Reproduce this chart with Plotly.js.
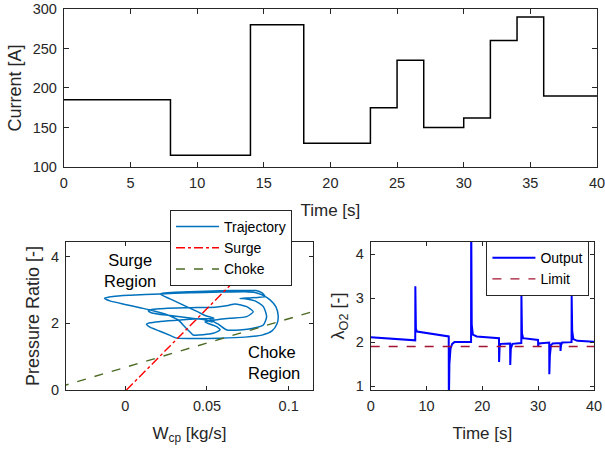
<!DOCTYPE html>
<html><head><meta charset="utf-8">
<script src="https://cdn.plot.ly/plotly-3.0.1.min.js"></script>
<style>body{margin:0;padding:0;background:#fff}#chart{width:605px;height:455px}</style>
</head><body><div id="chart"></div>
<script>
// Top: current profile (step)
const stepTime = [0, 8, 14, 18, 23, 25, 27, 30, 32, 34, 36, 40];
const stepCurrent = [185, 115, 280, 130, 175, 235, 150, 162, 260, 290, 190, 190];

// Bottom-left: compressor trajectory
const trajW = [0.0543,0.0457,0.0335,0.0212,0.0151,0.0130,0.0151,0.0212,0.0274,0.0316,
  0.0396,0.0580,0.0733,0.0837,0.0898,0.0928,0.0936,0.0922,0.0886,0.0837,0.0794,0.0733,
  0.0580,0.0396,0.0212,0.0029,-0.0075,-0.0127,-0.0094,-0.0002,0.0090,0.0163,0.0243,0.0323,0.0365,0.0396,0.0416,
  0.0539,0.0580,0.0559,0.0488,
  0.0549,0.0641,0.0743,0.0783,0.0743,0.0671,0.0629,
  0.0549,0.0396,0.0243,0.0163,0.0141,0.0163,0.0274,0.0396,0.0488,
  0.0531,0.0543,0.0518,
  0.0567,0.0621,0.0702,0.0783,0.0845,0.0865,0.0845,0.0794,0.0743,0.0702,
  0.0763,0.0812,0.0855,0.0837,0.0800,0.0733,
  0.0580,0.0396,0.0243,0.0212,0.0274,0.0365,0.0445,0.0488,0.0543];
const trajPR = [2.153,2.138,2.102,2.054,2.018,1.973,1.883,1.763,1.637,1.556,
  1.544,1.553,1.586,1.646,1.772,1.982,2.222,2.492,2.703,2.853,2.925,2.949,
  2.937,2.919,2.883,2.841,2.805,2.754,2.673,2.568,2.468,2.387,2.282,2.102,1.892,1.742,1.652,
  1.703,1.802,1.901,2.042,
  2.102,2.153,2.201,2.351,2.502,2.583,2.538,
  2.486,2.468,2.447,2.417,2.381,2.312,2.237,2.162,2.102,
  2.042,2.087,2.117,
  1.982,1.802,1.802,1.853,1.952,2.201,2.502,2.673,2.733,2.748,
  2.763,2.778,2.808,2.913,2.982,2.988,
  2.979,2.949,2.913,2.883,2.733,2.523,2.342,2.237,2.153];

const surgeW = [0.0007, 0.0916];
const surgePR = [0, 4.5];
const chokeW = [-0.04, 0.12];
const chokePR = [0.096, 2.43];

// Bottom-right: oxygen excess ratio
const lamTime = [0,7.98,8.0,8.1,8.3,13.98,14.0,14.1,14.3,14.6,15,17.98,18.0,18.1,18.3,19,22.98,23.0,23.1,23.3,24.98,25.0,25.1,25.4,26.98,27.0,27.1,27.3,29.98,30.0,30.1,31.98,32.0,32.1,32.3,32.6,33.98,34.0,34.1,34.3,35.98,36.0,36.1,36.3,37,40];
const lamValue = [2.11,2.04,3.27,2.3,2.24,2.13,0.5,1.5,1.85,1.96,2.0,2.0,5.0,2.4,2.17,2.13,2.09,1.55,1.9,1.96,1.97,1.48,1.85,1.96,1.98,3.1,2.2,2.09,2.05,1.91,1.97,1.99,1.27,1.7,1.93,1.97,1.98,1.8,1.93,1.99,2.0,3.06,2.25,2.07,2.03,2.01];
const limitTime = [0, 40];
const limitValue = [1.9, 1.9];

const topXTicks = [0,5,10,15,20,25,30,35,40];
const blXTickVals = [0, 0.05, 0.1];
const blXTickText = ['0', '0.05', '0.1'];

const FONT = 'Liberation Sans, Arial, sans-serif';
const AX = '#262626';
const tickFont = {family: FONT, size: 14.5, color: AX};
const xTitleFont = {family: FONT, size: 17, color: AX};
const yTitleFont = {family: FONT, size: 18, color: AX};

function axis(extra) {
  return Object.assign({
    showline: true, linecolor: AX, linewidth: 1, mirror: 'allticks',
    ticks: 'inside', ticklen: 5, tickcolor: AX, tickwidth: 1,
    showgrid: false, zeroline: false, tickfont: tickFont, fixedrange: true,
    ticklabeloverflow: 'allow', ticklabelstandoff: 3
  }, extra);
}

const traces = [
  {x: stepTime, y: stepCurrent, mode: 'lines', line: {shape: 'hv', color: '#000', width: 1.5},
   xaxis: 'x', yaxis: 'y', showlegend: false},
  {x: trajW, y: trajPR, mode: 'lines', name: 'Trajectory', line: {color: '#0072BD', width: 1.5, shape: 'spline', smoothing: 0.6},
   xaxis: 'x2', yaxis: 'y2', legend: 'legend'},
  {x: surgeW, y: surgePR, mode: 'lines', name: 'Surge', line: {color: '#FF0000', width: 1.4, dash: 'dashdot'},
   xaxis: 'x2', yaxis: 'y2', legend: 'legend'},
  {x: chokeW, y: chokePR, mode: 'lines', name: 'Choke', line: {color: '#4B6B24', width: 1.4, dash: 'dash'},
   xaxis: 'x2', yaxis: 'y2', legend: 'legend'},
  {x: lamTime, y: lamValue, mode: 'lines', name: 'Output', line: {color: '#0000FF', width: 2},
   xaxis: 'x3', yaxis: 'y3', legend: 'legend2'},
  {x: limitTime, y: limitValue, mode: 'lines', name: 'Limit', line: {color: '#A2142F', width: 1.3, dash: 'dash'},
   xaxis: 'x3', yaxis: 'y3', legend: 'legend2'}
];

const layout = {
  width: 605, height: 455,
  margin: {l: 0, r: 0, t: 0, b: 0},
  paper_bgcolor: '#fff', plot_bgcolor: '#fff',
  font: {family: FONT, color: AX},
  xaxis: axis({domain: [0.1055, 0.9868], range: [0, 40], tickvals: topXTicks, anchor: 'y',
    title: {text: 'Time [s]', font: xTitleFont, standoff: 13}}),
  yaxis: axis({domain: [0.633, 0.9802], range: [100, 300], dtick: 50, anchor: 'x',
    title: {text: 'Current [A]', font: yTitleFont, standoff: 6}}),
  xaxis2: axis({domain: [0.1091, 0.5174], range: [-0.0363, 0.1149], tickvals: blXTickVals, ticktext: blXTickText, anchor: 'y2', ticklen: 4,
    title: {text: 'W<sub>cp</sub> [kg/s]', font: xTitleFont, standoff: 13}}),
  yaxis2: axis({domain: [0.1429, 0.4681], range: [0, 4.44], dtick: 2, anchor: 'x2', ticklen: 4,
    title: {text: 'Pressure Ratio [-]', font: yTitleFont, standoff: 6}}),
  xaxis3: axis({domain: [0.6127, 0.9818], range: [0, 40], dtick: 10, anchor: 'y3', ticklen: 4,
    title: {text: 'Time [s]', font: xTitleFont, standoff: 13}}),
  yaxis3: axis({domain: [0.1429, 0.4681], range: [0.91, 4.28], dtick: 1, anchor: 'x3', ticklen: 4,
    title: {text: 'λ<sub>O2</sub> [-]', font: yTitleFont, standoff: 6}}),
  legend: {x: 0.281, y: 0.5385, xanchor: 'left', yanchor: 'top', bgcolor: '#fff', itemwidth: 43,
    bordercolor: AX, borderwidth: 1, font: {family: FONT, size: 14, color: '#000'}, tracegroupgap: 0},
  legend2: {x: 0.804, y: 0.47, xanchor: 'left', yanchor: 'top', bgcolor: '#fff', itemwidth: 43,
    bordercolor: AX, borderwidth: 1, font: {family: FONT, size: 14, color: '#000'}, tracegroupgap: 0},
  annotations: [
    {xref: 'x2', yref: 'y2', x: 0.0029, y: 3.6, text: 'Surge<br>Region', showarrow: false,
     align: 'center', xanchor: 'center', yanchor: 'middle', font: {family: FONT, size: 16.5, color: '#000'}},
    {xref: 'x2', yref: 'y2', x: 0.0739, y: 0.81, text: 'Choke<br>Region', showarrow: false,
     align: 'left', xanchor: 'left', yanchor: 'middle', font: {family: FONT, size: 16.5, color: '#000'}}
  ]
};

Plotly.newPlot('chart', traces, layout, {staticPlot: true, displayModeBar: false});
</script></body></html>
